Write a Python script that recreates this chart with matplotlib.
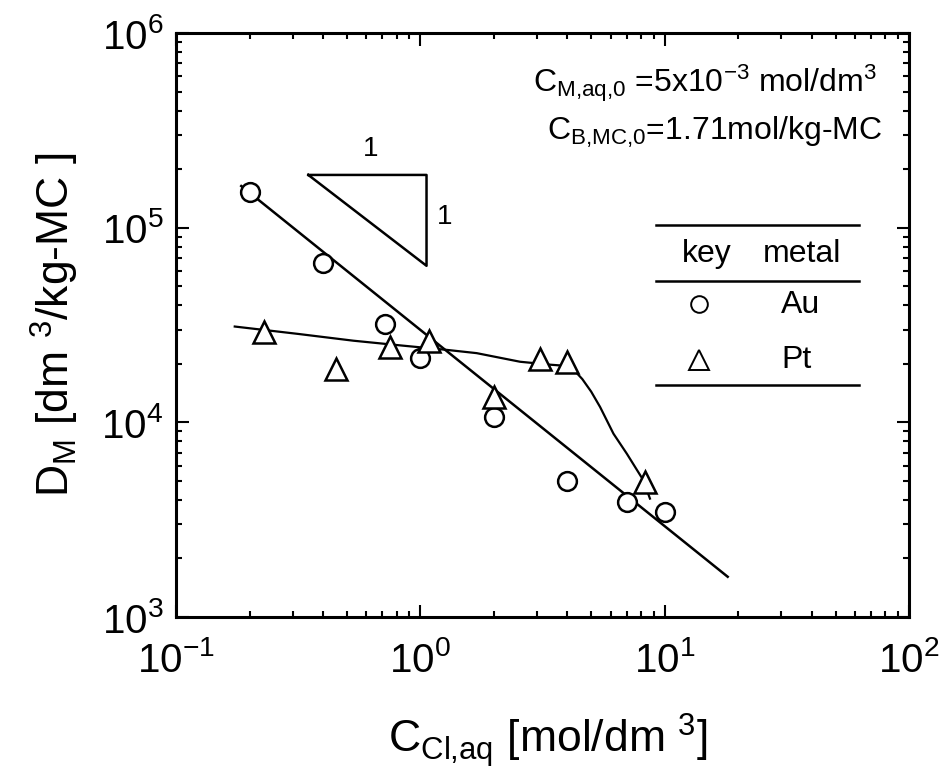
import matplotlib
matplotlib.use("Agg")
import matplotlib.pyplot as plt

plt.rcParams["font.family"] = ["Liberation Sans", "DejaVu Sans"]
plt.rcParams["mathtext.fontset"] = "custom"
plt.rcParams["mathtext.rm"] = "Liberation Sans"
plt.rcParams["mathtext.it"] = "Liberation Sans"
plt.rcParams["mathtext.bf"] = "Liberation Sans:bold"
plt.rcParams["mathtext.default"] = "regular"

# Au: measured distribution ratios
au_x = [0.2, 0.4, 0.72, 1.0, 2.0, 4.0, 7.0, 10.0]
au_y = [1.52e5, 6.6e4, 3.2e4, 2.15e4, 1.06e4, 5.0e3, 3.9e3, 3.45e3]

# Pt: measured distribution ratios
pt_x = [0.23, 0.45, 0.75, 1.08, 2.0, 3.1, 4.0, 8.3]
pt_y = [2.9e4, 1.88e4, 2.43e4, 2.63e4, 1.35e4, 2.12e4, 2.04e4, 4.94e3]

# Au trend line (slope -1)
au_fit_x = [0.185, 18.1]
au_fit_y = [1.64e5, 1.61e3]

# Pt guide curve
pt_curve_x = [0.174, 0.316, 0.532, 0.85, 1.28, 1.70, 2.56, 3.4, 3.79, 4.05,
              4.3, 4.6, 5.0, 5.44, 6.17, 7.0, 8.18, 8.7]
pt_curve_y = [3.11e4, 2.85e4, 2.63e4, 2.48e4, 2.36e4, 2.27e4, 2.05e4, 1.98e4,
              1.96e4, 1.92e4, 1.83e4, 1.67e4, 1.44e4, 1.2e4, 8.75e3, 6.9e3,
              5.04e3, 4.06e3]

# slope triangle corners
tri_x = [0.348, 1.06, 1.06, 0.348]
tri_y = [1.87e5, 1.87e5, 6.38e4, 1.87e5]

fig = plt.figure(figsize=(9.46, 7.73), dpi=100)
ax = fig.add_axes([0.186, 0.2018, 0.775, 0.7552])
ax.set_xscale("log")
ax.set_yscale("log")
ax.set_xlim(0.1, 100)
ax.set_ylim(1e3, 1e6)

lw = 1.8
ax.plot(au_fit_x, au_fit_y, color="black", lw=lw, zorder=2)
ax.plot(pt_curve_x, pt_curve_y, color="black", lw=1.6, zorder=2,
        solid_joinstyle="round")
ax.plot(au_x, au_y, linestyle="none", marker="o", ms=13.5, mfc="white",
        mec="black", mew=1.8, zorder=3)
ax.plot(pt_x, pt_y, linestyle="none", marker="^", ms=15.5, mfc="white",
        mec="black", mew=1.8, zorder=3)
ax.plot(tri_x, tri_y, color="black", lw=lw, zorder=2)
ax.text(0.628, 2.54e5, "1", fontsize=20, ha="center", va="center")
ax.text(1.26, 1.14e5, "1", fontsize=20, ha="center", va="center")

# conditions
ax.text(0.956, 0.915, r"$C_{M{,}aq{,}0}$ =5x10$^{-3}$ mol/dm$^{3}$",
        transform=ax.transAxes, fontsize=23, ha="right", va="center")
ax.text(0.963, 0.831, r"$C_{B{,}MC{,}0}$=1.71mol/kg-MC",
        transform=ax.transAxes, fontsize=23, ha="right", va="center")

# key table
for yy in (0.671, 0.575, 0.397):
    ax.plot([0.655, 0.932], [yy, yy], transform=ax.transAxes, color="black",
            lw=1.8, clip_on=False)
ax.text(0.724, 0.622, "key", transform=ax.transAxes, fontsize=23,
        ha="center", va="center")
ax.text(0.854, 0.622, "metal", transform=ax.transAxes, fontsize=23,
        ha="center", va="center")
ax.plot([0.7135], [0.536], transform=ax.transAxes, marker="o", ms=12,
        mfc="white", mec="black", mew=1.4, linestyle="none")
ax.plot([0.7135], [0.440], transform=ax.transAxes, marker="^", ms=14,
        mfc="white", mec="black", mew=1.4, linestyle="none")
ax.text(0.852, 0.534, "Au", transform=ax.transAxes, fontsize=23,
        ha="center", va="center")
ax.text(0.846, 0.440, "Pt", transform=ax.transAxes, fontsize=23,
        ha="center", va="center")

for s in ax.spines.values():
    s.set_linewidth(2.2)
ax.tick_params(which="both", direction="in", top=True, right=True, width=1.5)
ax.tick_params(which="major", length=9)
ax.tick_params(which="minor", length=4.5)
ax.tick_params(axis="x", which="major", labelsize=29, pad=17)
ax.tick_params(axis="y", which="major", labelsize=29, pad=9)

fig.text(548 / 946, 1 - 740 / 773, r"$C_{Cl{,}aq}$ [mol/dm $^{3}$]",
         fontsize=32, ha="center", va="center")
fig.text(55 / 946, 1 - 325 / 773, r"$D_{M}$ [dm $^{3}$/kg-MC ]",
         fontsize=32, ha="center", va="center", rotation=90)

fig.savefig("out.png", dpi=100)
